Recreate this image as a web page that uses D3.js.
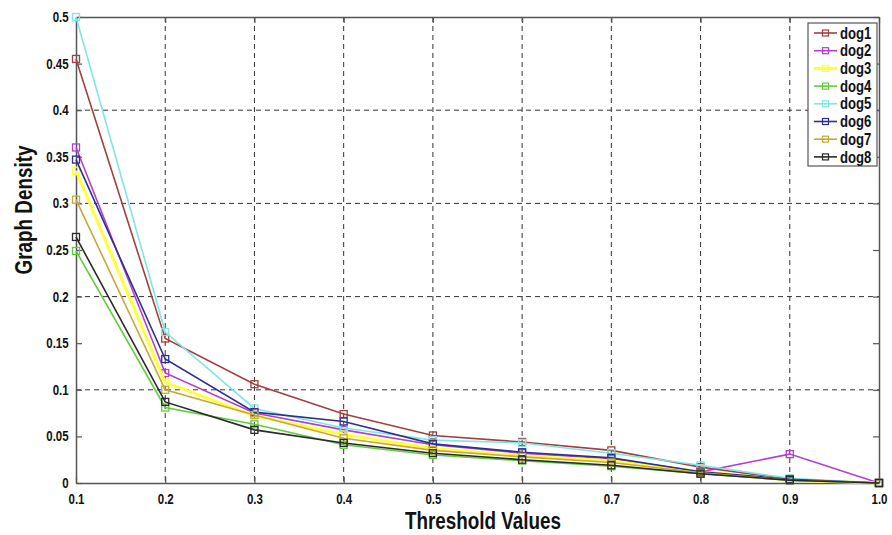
<!DOCTYPE html>
<html>
<head>
<meta charset="utf-8">
<script src="https://cdn.jsdelivr.net/npm/d3@7"></script>
<style>
  body { margin: 0; background: #fff; }
  svg { display: block; font-family: "Liberation Sans", Arial, sans-serif; }
</style>
</head>
<body>
<div id="chart"></div>
<script>
// data
var thresholds = [0.1, 0.2, 0.3, 0.4, 0.5, 0.6, 0.7, 0.8, 0.9, 1.0];
var dog1 = [0.455, 0.155, 0.106, 0.074, 0.051, 0.044, 0.035, 0.017, 0.004, 0];
var dog2 = [0.360, 0.118, 0.075, 0.057, 0.041, 0.032, 0.026, 0.012, 0.031, 0];
var dog3 = [0.335, 0.108, 0.072, 0.052, 0.037, 0.029, 0.024, 0.012, 0.003, 0];
var dog4 = [0.249, 0.081, 0.063, 0.041, 0.030, 0.024, 0.018, 0.010, 0.003, 0];
var dog5 = [0.500, 0.162, 0.080, 0.059, 0.046, 0.043, 0.032, 0.019, 0.005, 0];
var dog6 = [0.347, 0.133, 0.076, 0.066, 0.042, 0.033, 0.027, 0.012, 0.004, 0];
var dog7 = [0.304, 0.100, 0.073, 0.048, 0.035, 0.028, 0.022, 0.011, 0.003, 0];
var dog8 = [0.264, 0.087, 0.057, 0.043, 0.032, 0.025, 0.019, 0.010, 0.003, 0];
var seriesNames = ['dog1', 'dog2', 'dog3', 'dog4', 'dog5', 'dog6', 'dog7', 'dog8'];
var seriesValues = [dog1, dog2, dog3, dog4, dog5, dog6, dog7, dog8];
var seriesColors = ['#a0413f', '#b23fd0', '#ffff3a', '#62cc3c', '#7fe6e6', '#2f2f8f', '#c8a83a', '#2a2a2a'];
var xTickLabels = ['0.1', '0.2', '0.3', '0.4', '0.5', '0.6', '0.7', '0.8', '0.9', '1.0'];
var yTicks = [0, 0.05, 0.1, 0.15, 0.2, 0.25, 0.3, 0.35, 0.4, 0.45, 0.5];
var yGrid = [0.1, 0.2, 0.3, 0.4];

var width = 892, height = 535;
var margin = {left: 76, right: 13, top: 17, bottom: 52};
var plotW = width - margin.left - margin.right;
var plotH = height - margin.top - margin.bottom;
var squeeze = 'scale(0.82,1)'; //reference font is a condensed bold face

var svg = d3.select('#chart').append('svg')
    .attr('width', width)
    .attr('height', height);

var x = d3.scaleLinear().domain([0.1, 1.0]).range([0, plotW]);
var y = d3.scaleLinear().domain([0, 0.5]).range([plotH, 0]);

var g = svg.append('g')
    .attr('transform', 'translate(' + margin.left + ',' + margin.top + ')');

//grid
var grid = g.append('g').attr('class', 'grid');
grid.selectAll('line.gx')
    .data(thresholds.slice(1, -1))
    .enter().append('line')
    .attr('x1', function(d){ return x(d); })
    .attr('x2', function(d){ return x(d); })
    .attr('y1', 0).attr('y2', plotH)
    .attr('stroke', '#333').attr('stroke-width', 1)
    .attr('stroke-dasharray', '5,4');
grid.selectAll('line.gy')
    .data(yGrid)
    .enter().append('line')
    .attr('y1', function(d){ return y(d); })
    .attr('y2', function(d){ return y(d); })
    .attr('x1', 0).attr('x2', plotW)
    .attr('stroke', '#333').attr('stroke-width', 1)
    .attr('stroke-dasharray', '5,4');

//axes (ticks pointing inwards, matlab style)
var fmtX = function(d, i){ return xTickLabels[i]; };
var fmtY = function(d){ return d === 0 ? '0' : String(+d.toFixed(2)); };

var xAxis = g.append('g')
    .attr('transform', 'translate(0,' + plotH + ')')
    .call(d3.axisBottom(x).tickValues(thresholds).tickFormat(fmtX).tickSizeInner(-6).tickSizeOuter(0).tickPadding(11));
var xTop = g.append('g')
    .call(d3.axisTop(x).tickValues(thresholds).tickFormat('').tickSizeInner(-6).tickSizeOuter(0));
var yAxis = g.append('g')
    .call(d3.axisLeft(y).tickValues(yTicks).tickFormat(fmtY).tickSizeInner(-6).tickSizeOuter(0).tickPadding(9));
var yRight = g.append('g')
    .attr('transform', 'translate(' + plotW + ',0)')
    .call(d3.axisRight(y).tickValues(yTicks).tickFormat('').tickSizeInner(-6).tickSizeOuter(0));

[xAxis, xTop, yAxis, yRight].forEach(function(a){
    a.select('.domain').attr('stroke', '#555').attr('stroke-width', 1.5);
    a.selectAll('.tick line').attr('stroke', '#555').attr('stroke-width', 1.2);
    a.selectAll('.tick text')
        .attr('fill', '#111')
        .attr('transform', squeeze)
        .style('font-size', '14px')
        .style('font-weight', 'bold');
});

//lines
var line = d3.line()
    .x(function(d, i){ return x(thresholds[i]); })
    .y(function(d){ return y(d); });

seriesValues.forEach(function(vals, k){
    var s = g.append('g').attr('class', 'series ' + seriesNames[k]);
    s.append('path')
        .datum(vals)
        .attr('fill', 'none')
        .attr('stroke', seriesColors[k])
        .attr('stroke-width', k === 2 ? 3 : 1.6)
        .attr('d', line);
    s.selectAll('rect')
        .data(vals)
        .enter().append('rect')
        .attr('x', function(d, i){ return x(thresholds[i]) - 3.5; })
        .attr('y', function(d){ return y(d) - 3.5; })
        .attr('width', 7).attr('height', 7)
        .attr('fill', 'none')
        .attr('stroke', seriesColors[k])
        .attr('stroke-width', 1.3);
});

//legend
var legend = svg.append('g').attr('transform', 'translate(808,23)');
legend.append('rect')
    .attr('width', 69).attr('height', 143)
    .attr('fill', '#fff')
    .attr('stroke', '#555').attr('stroke-width', 1.2);
var item = legend.selectAll('g.item')
    .data(seriesNames)
    .enter().append('g')
    .attr('transform', function(d, i){ return 'translate(0,' + (10 + i * 17.7) + ')'; });
item.append('line')
    .attr('x1', 6).attr('x2', 29)
    .attr('stroke', function(d, i){ return seriesColors[i]; })
    .attr('stroke-width', function(d, i){ return i === 2 ? 3 : 1.6; });
item.append('rect')
    .attr('x', 14.5).attr('y', -3).attr('width', 6).attr('height', 6)
    .attr('fill', 'none')
    .attr('stroke', function(d, i){ return seriesColors[i]; })
    .attr('stroke-width', 1.2);
item.append('text')
    .attr('transform', 'translate(32,0) ' + squeeze)
    .attr('dy', '0.35em')
    .style('font-size', '16px').style('font-weight', 'bold')
    .attr('fill', '#111')
    .text(function(d){ return d; });

//axis titles
svg.append('text')
    .attr('transform', 'translate(483,529) ' + squeeze)
    .attr('text-anchor', 'middle')
    .style('font-size', '23px').style('font-weight', 'bold')
    .attr('fill', '#111')
    .text('Threshold Values');
svg.append('text')
    .attr('transform', 'translate(32,210) rotate(-90) ' + squeeze)
    .attr('text-anchor', 'middle')
    .style('font-size', '23px').style('font-weight', 'bold')
    .attr('fill', '#111')
    .text('Graph Density');
</script>
</body>
</html>
